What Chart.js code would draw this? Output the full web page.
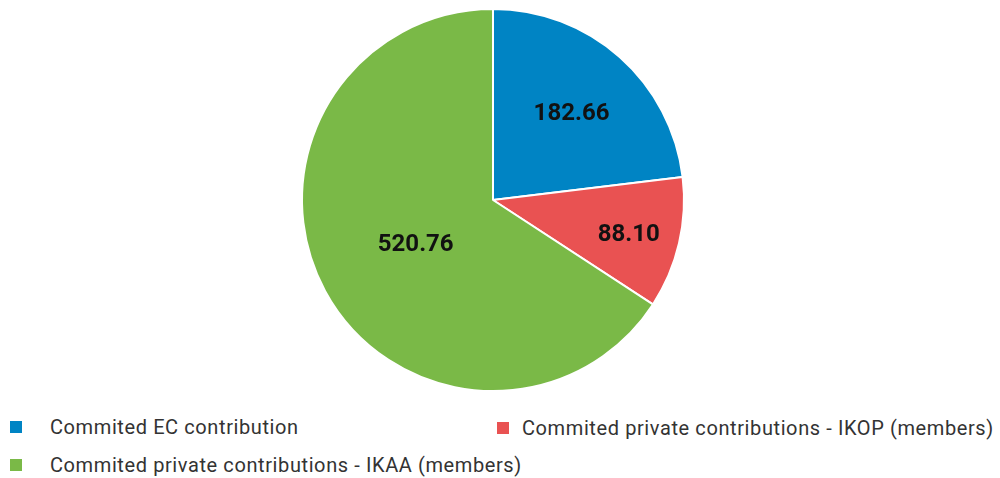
<!DOCTYPE html>
<html>
<head>
<meta charset="utf-8">
<script src="https://cdn.jsdelivr.net/npm/chart.js@4.4.1/dist/chart.umd.min.js"></script>
<style>
  html, body { margin: 0; padding: 0; background: #fff; }
  #wrap { position: relative; width: 1000px; height: 478px; }
  #pie { position: absolute; left: 0; top: 0; }
  .leg { position: absolute; font-family: Roboto, "Noto Sans", sans-serif; font-size: 20px; letter-spacing: 0.6px; color: #333; white-space: nowrap; }
  .leg i { position: absolute; top: 6px; width: 12px; height: 12px; }
</style>
</head>
<body>
<div id="wrap">
  <canvas id="pie" width="986" height="400"></canvas>
  <div id="legend"></div>
</div>
<script>
// Contribuições
const labels = ['Commited EC contribution', 'Commited private contributions - IKOP (members)', 'Commited private contributions - IKAA (members)'];
const values = [182.66, 88.10, 520.76];
const colors = ['#0084C4', '#E95252', '#7AB947'];

// legenda manual (duas colunas)
const legendPos = [[10, 415, 40], [497, 416, 25], [10, 453, 40]];
const legendEl = document.getElementById('legend');
labels.forEach((txt, i) => {
    const d = document.createElement('div');
    d.className = 'leg';
    d.style.left = legendPos[i][0] + 'px';
    d.style.top = legendPos[i][1] + 'px';
    d.style.paddingLeft = legendPos[i][2] + 'px';
    d.innerHTML = '<i style="left:0;background:' + colors[i] + '"></i>' + txt;
    legendEl.appendChild(d);
});

// rótulos dentro das fatias (distância relativa ao raio)
const labelDist = [0.62, 0.73, 0.46];
const valueLabels = {
    id: 'valueLabels',
    afterDatasetsDraw(chart) {
        const ctx = chart.ctx;
        const meta = chart.getDatasetMeta(0);
        ctx.save();
        ctx.font = 'bold 24px Roboto, sans-serif';
        ctx.fillStyle = '#111';
        ctx.textAlign = 'center';
        ctx.textBaseline = 'middle';
        meta.data.forEach((arc, i) => {
            const p = arc.getProps(['x', 'y', 'startAngle', 'endAngle', 'outerRadius'], true);
            const mid = (p.startAngle + p.endAngle) / 2;
            const r = p.outerRadius * labelDist[i];
            ctx.fillText(values[i].toFixed(2), p.x + Math.cos(mid) * r, p.y + Math.sin(mid) * r + 3);
        });
        ctx.restore();
    }
};

const pieCtx = document.getElementById('pie').getContext('2d');
const pieChart = new Chart(pieCtx, {
    type: 'pie',
    data: {
        labels: labels,
        datasets: [{
            data: values,
            backgroundColor: colors,
            borderColor: '#fff',
            borderWidth: 2
        }]
    },
    options: {
        responsive: false,
        animation: false,
        layout: { padding: { top: 8, bottom: 8 } },
        plugins: {
            legend: { display: false },
            tooltip: { enabled: false }
        }
    },
    plugins: [valueLabels]
});
</script>
</body>
</html>
